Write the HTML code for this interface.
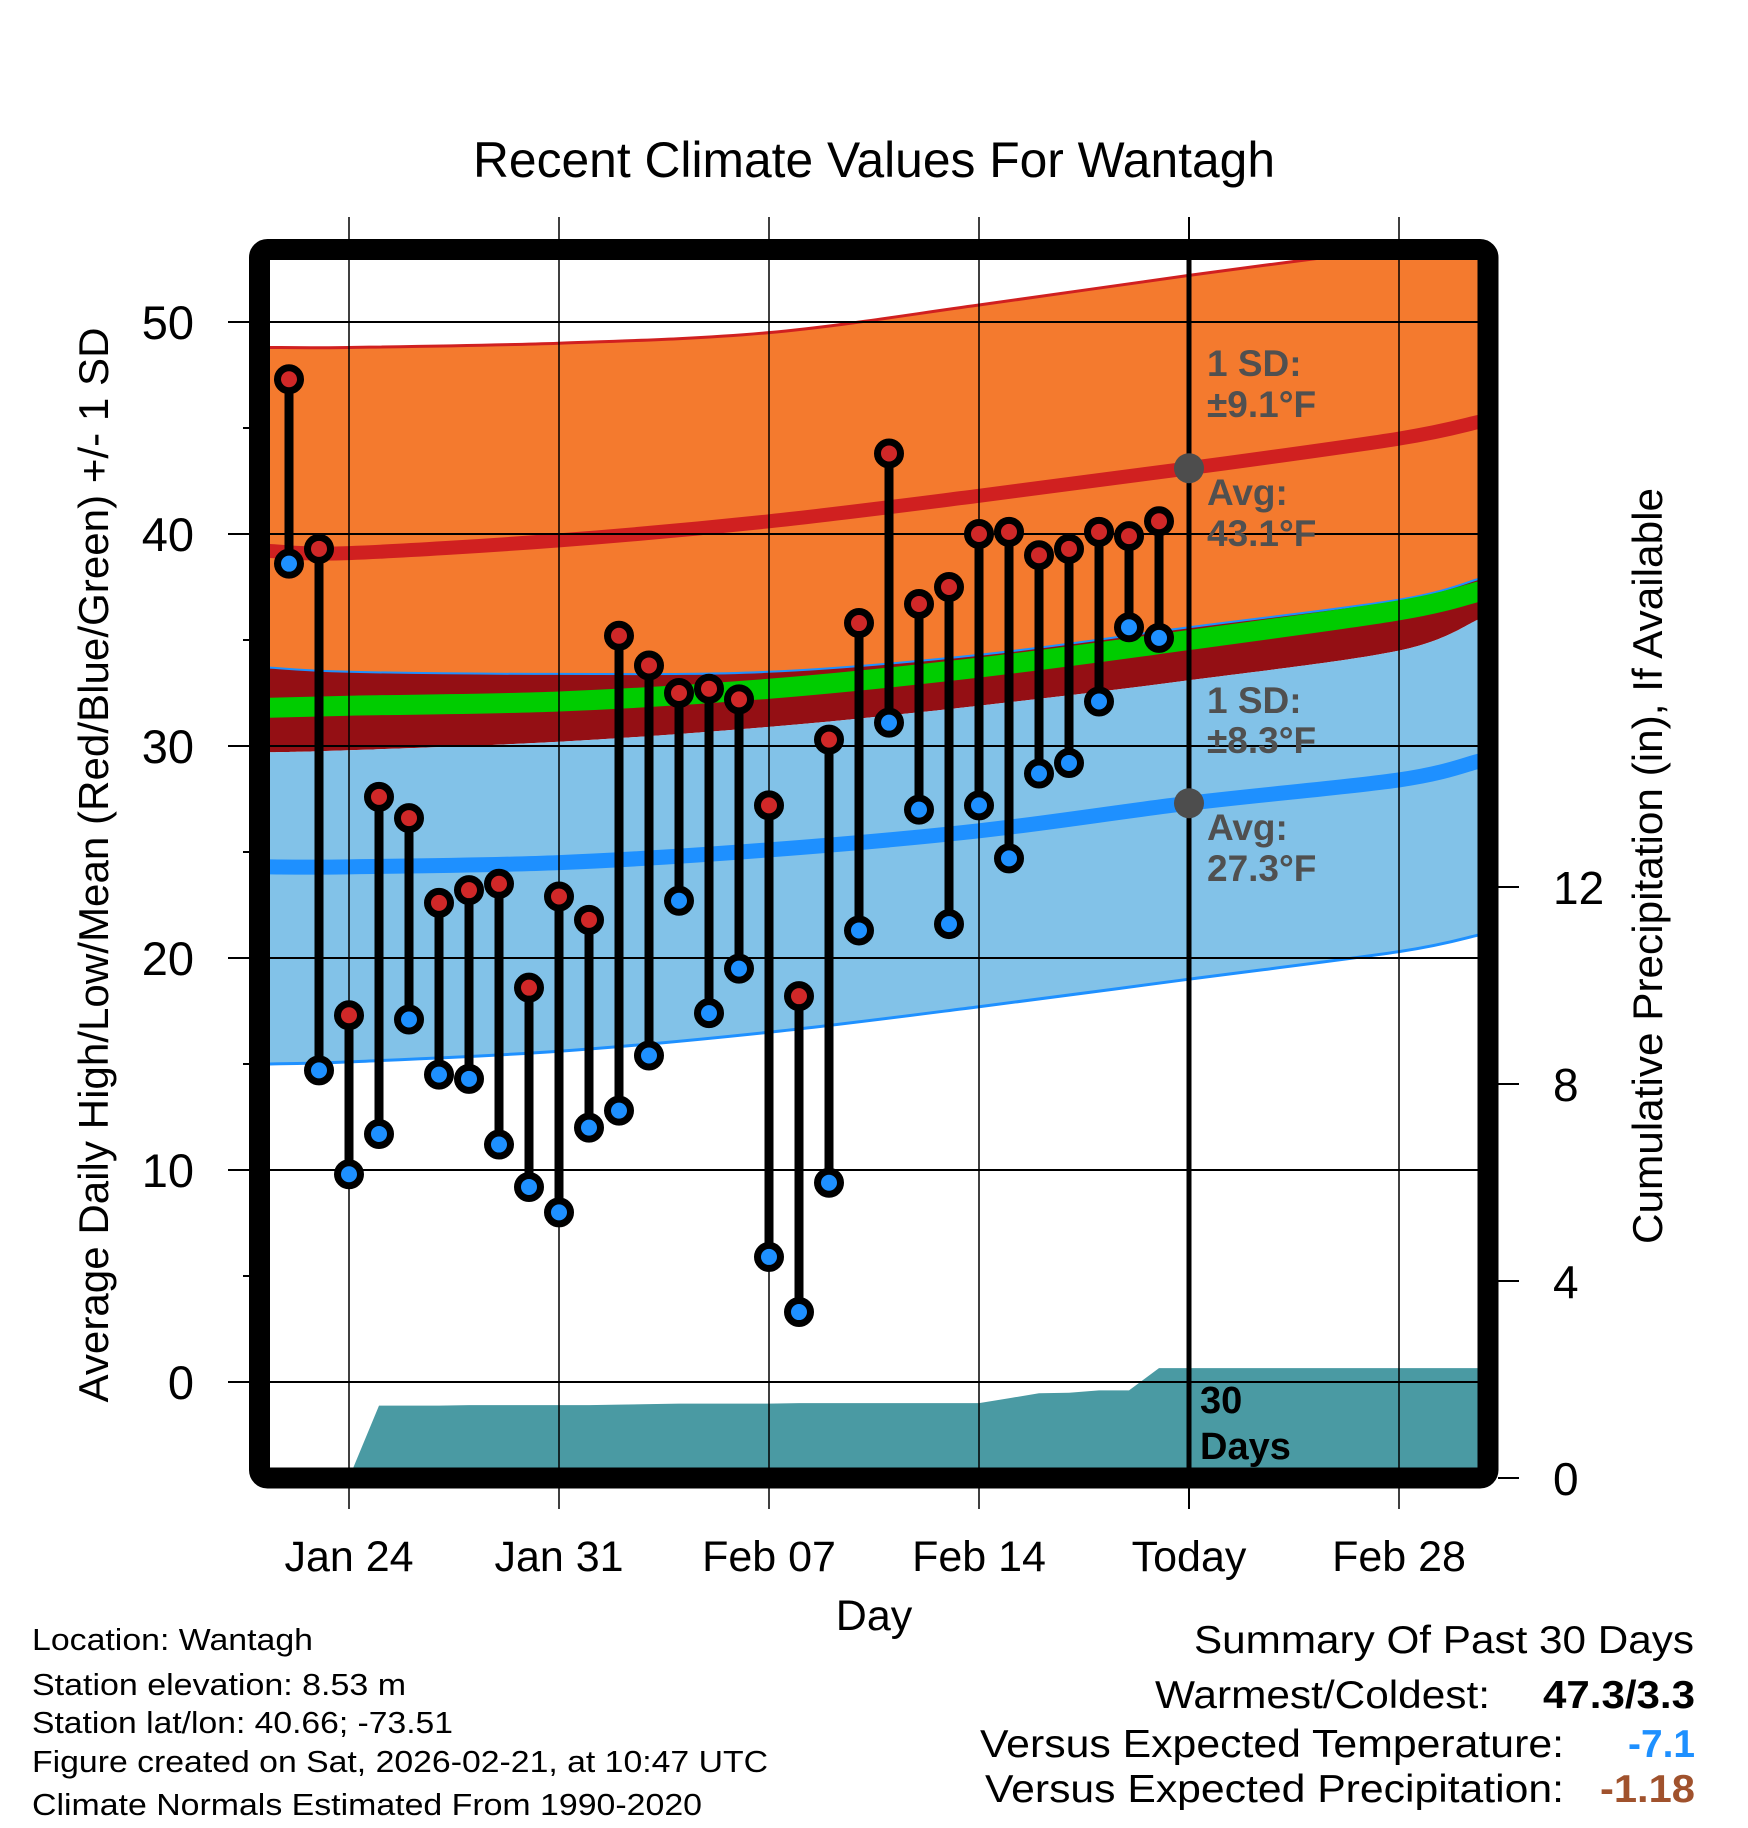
<!DOCTYPE html>
<html><head><meta charset="utf-8"><style>
html,body{margin:0;padding:0;background:#fff;}
svg{display:block;font-family:"Liberation Sans",Arial,sans-serif;}
</style></head><body>
<svg id="chart" width="1748" height="1828" viewBox="0 0 1748 1828" xmlns="http://www.w3.org/2000/svg">
<defs><clipPath id="plotclip"><rect x="270" y="260" width="1208" height="1208"/></clipPath></defs>
<rect width="1748" height="1828" fill="#fff"/>
<text x="874" y="177" font-size="50" text-anchor="middle" textLength="802" lengthAdjust="spacingAndGlyphs">Recent Climate Values For Wantagh</text>
<g id="fills" clip-path="url(#plotclip)"></g>
<g id="grid"></g>
<g id="marks"></g>
<g id="overlay"></g>
<rect x="259.5" y="249.5" width="1228.5" height="1228.5" rx="8" fill="none" stroke="#000" stroke-width="21"/>
<text transform="translate(108,865) rotate(-90)" font-size="42" text-anchor="middle" textLength="1075" lengthAdjust="spacingAndGlyphs">Average Daily High/Low/Mean (Red/Blue/Green) +/- 1 SD</text>
<text transform="translate(1662,866) rotate(-90)" font-size="42" text-anchor="middle" textLength="756" lengthAdjust="spacingAndGlyphs">Cumulative Precipitation (in), If Available</text>
<text x="874" y="1630" font-size="43" text-anchor="middle">Day</text>
<g font-size="31">
<text x="32" y="1650" textLength="281" lengthAdjust="spacingAndGlyphs">Location: Wantagh</text>
<text x="32" y="1695" textLength="374" lengthAdjust="spacingAndGlyphs">Station elevation: 8.53 m</text>
<text x="32" y="1733" textLength="421" lengthAdjust="spacingAndGlyphs">Station lat/lon: 40.66; -73.51</text>
<text x="32" y="1772" textLength="736" lengthAdjust="spacingAndGlyphs">Figure created on Sat, 2026-02-21, at 10:47 UTC</text>
<text x="32" y="1815" textLength="670" lengthAdjust="spacingAndGlyphs">Climate Normals Estimated From 1990-2020</text>
</g>
<g font-size="39">
<text x="1194" y="1653" textLength="500" lengthAdjust="spacingAndGlyphs">Summary Of Past 30 Days</text>
<text x="1155" y="1708" textLength="335" lengthAdjust="spacingAndGlyphs">Warmest/Coldest:</text>
<text x="1543" y="1708" font-weight="bold" textLength="152" lengthAdjust="spacingAndGlyphs">47.3/3.3</text>
<text x="980" y="1757" textLength="584" lengthAdjust="spacingAndGlyphs">Versus Expected Temperature:</text>
<text x="1628" y="1757" font-weight="bold" fill="#1e90ff" textLength="67" lengthAdjust="spacingAndGlyphs">-7.1</text>
<text x="985" y="1802" textLength="579" lengthAdjust="spacingAndGlyphs">Versus Expected Precipitation:</text>
<text x="1600" y="1802" font-weight="bold" fill="#a0522d" textLength="95" lengthAdjust="spacingAndGlyphs">-1.18</text>
</g>
</svg>
<script>
// ---- data ----
const dayOffsets = [-2,-1,0,1,2,3,4,5,6,7,8,9,10,11,12,13,14,15,16,17,18,19,20,21,22,23,24,25,26,27];
const highs = [47.3,39.3,17.3,27.6,26.6,22.6,23.2,23.5,18.6,22.9,21.8,35.2,33.8,32.5,32.7,32.2,27.2,18.2,30.3,35.8,43.8,36.7,37.5,40.0,40.1,39.0,39.3,40.1,39.9,40.6];
const lows = [38.6,14.7,9.8,11.7,17.1,14.5,14.3,11.2,9.2,8.0,12.0,12.8,15.4,22.7,17.4,19.5,5.9,3.3,9.4,21.3,31.1,27.0,21.6,27.2,24.7,28.7,29.2,32.1,35.6,35.1];
const precipDays = [-2,-1,0,1,2,3,4,5,6,7,8,9,10,11,12,13,14,15,16,17,18,19,20,21,22,23,24,25,26,27,28,37.7];
const precipCum = [0,0,0,1.47,1.47,1.47,1.48,1.48,1.48,1.48,1.48,1.49,1.50,1.51,1.51,1.51,1.51,1.52,1.52,1.52,1.52,1.52,1.52,1.52,1.62,1.72,1.73,1.78,1.78,2.23,2.23,2.23];
const normDays = [-2.7,0,7,14,21,28,35,37.7];
const highUpper = [48.8,48.8,49.0,49.5,50.8,52.2,53.5,54.0];
const avgHigh = [39.2,39.1,39.7,40.6,41.8,43.1,44.5,45.3];
const orangeLow = [33.7,33.5,33.4,33.5,34.3,35.6,36.9,37.9];
const avgMean = [31.8,31.9,32.1,32.7,33.7,35.0,36.4,37.3];
const lowUpper = [29.7,29.8,30.2,30.9,31.9,33.1,34.5,36.0];
const avgLow = [24.3,24.3,24.5,25.1,26.0,27.3,28.4,29.3];
const lowLower = [15.0,15.1,15.6,16.5,17.7,19.0,20.3,21.1];
const xTickDays = [0,7,14,21,28,35];
const xTickLabels = ["Jan 24","Jan 31","Feb 07","Feb 14","Today","Feb 28"];
const yTicks = [0,10,20,30,40,50];
const y2Ticks = [0,4,8,12];
const todayDay = 28;
const todayAvgHigh = 43.1;
const todayAvgLow = 27.3;

// ---- axes ----
const X = d => 349 + 30*d;
const Y = t => 1382 - 21.2*t;
const YP = p => 1478 - 49.25*p;
const NS = "http://www.w3.org/2000/svg";
function mk(tag, attrs, parent){const e=document.createElementNS(NS,tag);for(const k in attrs)e.setAttribute(k,attrs[k]);parent.appendChild(e);return e;}
const fills=document.getElementById('fills'), grid=document.getElementById('grid'), marks=document.getElementById('marks'), overlay=document.getElementById('overlay');
function pts(arr){return normDays.map((d,i)=>[X(d),Y(arr[i])]);}
function smooth(p, move){
  let s=(move?'M':'L')+p[0][0]+','+p[0][1]+' ';
  for(let i=0;i<p.length-1;i++){
    const p0=p[Math.max(0,i-1)],p1=p[i],p2=p[i+1],p3=p[Math.min(p.length-1,i+2)];
    const c1=[p1[0]+(p2[0]-p0[0])/6,p1[1]+(p2[1]-p0[1])/6];
    const c2=[p2[0]-(p3[0]-p1[0])/6,p2[1]-(p3[1]-p1[1])/6];
    s+='C'+c1[0]+','+c1[1]+' '+c2[0]+','+c2[1]+' '+p2[0]+','+p2[1]+' ';
  }
  return s;
}
function band(top,bot){return smooth(pts(top),true)+smooth(pts(bot).reverse(),false)+'Z';}
function line(arr){return smooth(pts(arr),true);}

let e;
e=mk('path',{d:band(highUpper,orangeLow),fill:'#f47a2e'},fills);


e=mk('path',{d:line(highUpper),fill:'none',stroke:'#d02020','stroke-width':3},fills);


e=mk('path',{d:band(orangeLow,lowUpper),fill:'#940f14'},fills);


e=mk('path',{d:band(lowUpper,lowLower),fill:'#82c2e8'},fills);


e=mk('path',{d:line(orangeLow),fill:'none',stroke:'#1e90ff','stroke-width':2},fills);


e=mk('path',{d:line(lowLower),fill:'none',stroke:'#1e90ff','stroke-width':3},fills);


e=mk('path',{d:line(avgMean),fill:'none',stroke:'#00cc00','stroke-width':20},fills);


e=mk('path',{d:line(avgHigh),fill:'none',stroke:'#d02020','stroke-width':14},fills);


e=mk('path',{d:line(avgLow),fill:'none',stroke:'#1e90ff','stroke-width':15},fills);


// precip area
let ps='M'+X(precipDays[0])+','+YP(0)+' ';
precipDays.forEach((d,i)=>{ps+='L'+X(d)+','+YP(precipCum[i])+' ';});
ps+='L'+X(precipDays[precipDays.length-1])+','+YP(0)+' Z';
e=mk('path',{d:ps,fill:'#4a9aa3'},fills);



// grid & ticks
yTicks.forEach(t=>{
  e=mk('line',{x1:228,x2:1478,y1:Y(t),y2:Y(t),stroke:'#000','stroke-width':2},grid);
  
  
  e=mk('text',{x:194,y:Y(t)+17,'font-size':47,'text-anchor':'end'},grid);
  e.textContent=t;
  
  
  if(t<50){
    e=mk('line',{x1:243,x2:249,y1:Y(t+5),y2:Y(t+5),stroke:'#000','stroke-width':2},grid);
    
    
  }
});
xTickDays.forEach((d,i)=>{
  e=mk('line',{x1:X(d),x2:X(d),y1:217,y2:1509,stroke:'#000','stroke-width':d===todayDay?2:1.5},grid);
  
  
  e=mk('text',{x:X(d),y:1571,'font-size':43,'text-anchor':'middle'},grid);
  e.textContent=xTickLabels[i];
  
  
});
y2Ticks.forEach(p=>{
  e=mk('line',{x1:1498,x2:1519,y1:YP(p),y2:YP(p),stroke:'#000','stroke-width':2},grid);
  
  
  e=mk('text',{x:1553,y:YP(p)+17,'font-size':46},grid);
  e.textContent=p;
  
  
});
e=mk('line',{x1:X(todayDay),x2:X(todayDay),y1:260,y2:1468,stroke:'#000','stroke-width':5},grid);



// daily high/low marks
dayOffsets.forEach((d,i)=>{
  e=mk('line',{x1:X(d),x2:X(d),y1:Y(highs[i]),y2:Y(lows[i]),stroke:'#000','stroke-width':9},marks);
  
  
});
dayOffsets.forEach((d,i)=>{
  e=mk('circle',{cx:X(d),cy:Y(highs[i]),r:11.5,fill:'#d02828',stroke:'#000','stroke-width':7},marks);
  
  
  e=mk('circle',{cx:X(d),cy:Y(lows[i]),r:11.5,fill:'#1e90ff',stroke:'#000','stroke-width':7},marks);
  
  
});

// annotations
e=mk('circle',{cx:X(todayDay),cy:Y(todayAvgHigh),r:15,fill:'#4d4d4d'},overlay);


e=mk('circle',{cx:X(todayDay),cy:Y(todayAvgLow),r:15,fill:'#4d4d4d'},overlay);


const ann=[["1 SD:",376,"high-sd-label"],["±9.1°F",417,"high-sd-value"],["Avg:",505,"high-avg-label"],["43.1°F",546,"high-avg-value"],["1 SD:",713,"low-sd-label"],["±8.3°F",753,"low-sd-value"],["Avg:",840,"low-avg-label"],["27.3°F",881,"low-avg-value"]];
ann.forEach(a=>{
  e=mk('text',{x:1207,y:a[1],'font-size':37,'font-weight':'bold',fill:'#505050'},overlay);
  e.textContent=a[0];
  
  
});
e=mk('text',{x:1200,y:1413,'font-size':38,'font-weight':'bold',fill:'#000'},overlay);
e.textContent='30';


e=mk('text',{x:1200,y:1459,'font-size':38,'font-weight':'bold',fill:'#000'},overlay);
e.textContent='Days';


</script>
</body></html>
